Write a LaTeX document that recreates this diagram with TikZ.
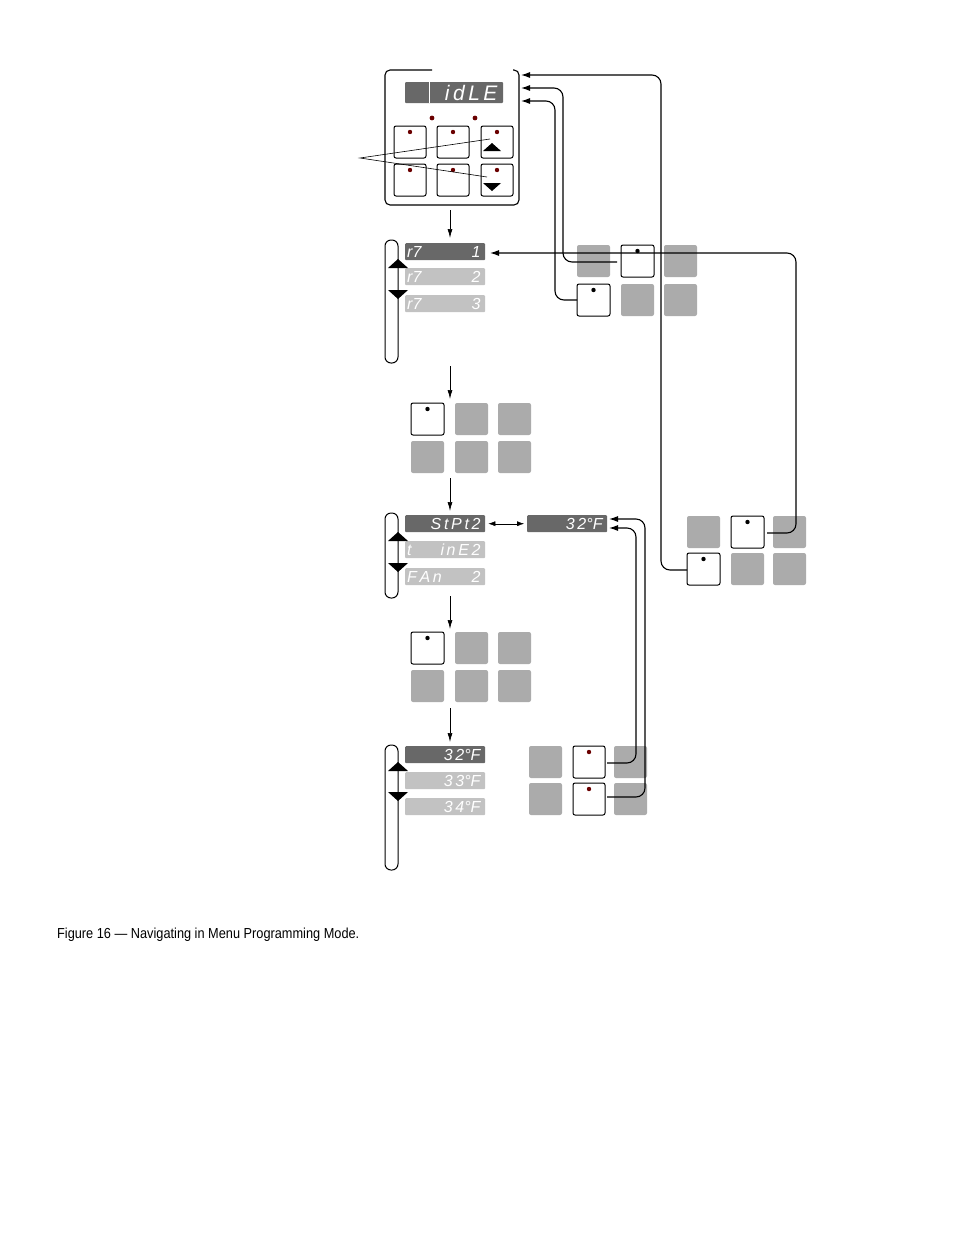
\documentclass[tikz,border=0pt]{standalone}
\usepackage{fontspec}
\setsansfont{Liberation Sans}
\usetikzlibrary{arrows.meta}
\definecolor{dk}{HTML}{686868}
\definecolor{lt}{HTML}{C2C2C2}
\definecolor{gk}{HTML}{ABABAB}
\definecolor{led}{HTML}{6A0000}
\begin{document}
\begin{tikzpicture}[x=1pt,y=-1pt,
 disp/.style={fill=dk,rounded corners=1pt,inner sep=0pt,text=white,font=\sffamily\itshape\fontsize{16}{16}\selectfont,text width=76pt,align=right,minimum width=80pt,minimum height=17pt,anchor=north west},
 ldisp/.style={disp,fill=lt},
 wkey/.style={draw,line width=1pt,rounded corners=2pt},
 gkey/.style={fill=gk,rounded corners=2pt},
 conn/.style={line width=1.1pt,rounded corners=9pt,-{Latex[length=9pt,width=6pt]}},
 arr/.style={line width=0.7pt,-{Latex[length=9pt,width=5pt]}},
 capsule/.style={draw,line width=1pt,rounded corners=6pt}]
\useasboundingbox (0,0) rectangle (954,1235);
\newcommand\wk[3]{\draw[wkey] (#1,#2) rectangle ++(33,32); \fill (#1+16.5,#2+6) circle (2.2pt); \coordinate (#3) at (#1,#2);}
\newcommand\gk[2]{\fill[gkey] (#1,#2) rectangle ++(33,32);}
% controller
\draw[line width=1.1pt,rounded corners=5pt] (432,70) -- (385,70) -- (385,205) -- (519,205) -- (519,70) -- (513,70);
\node[disp,minimum width=98pt,minimum height=21pt,text width=94pt,font=\sffamily\itshape\fontsize{21}{21}\selectfont,anchor=center] (idle) at (454,92.5) {i\,d\,L\,E\,};
\draw[white,line width=0.5pt] (429,82)--(429,103);
\fill[led] (432,118) circle (2.4pt) (475,118) circle (2.4pt);
\foreach \x in {394,437,481}{\foreach \y in {126,164}{\draw[wkey] (\x,\y) rectangle ++(32,32); \fill[led] (\x+16,\y+6) circle (2.2pt);}}
\fill (483,151) -- (492,143) -- (501,151) -- cycle;
\fill (483,183) -- (492,191) -- (501,183) -- cycle;
\coordinate (pt) at (360,158);
\coordinate (ua) at (490,139);
\coordinate (da) at (487,177);
\draw[line width=0.6pt] (ua) -- (pt) -- (da);
\coordinate (c1) at (450,210); \coordinate (c1b) at (450,238);
\draw[arr] (c1) -- (c1b);
% menu 1
\draw[capsule] (385,240) rectangle (398,363);
\node[disp] (m11) at (405,243) {r7\hfill 1\,};
\node[ldisp] (m12) at (405,268) {r7\hfill 2\,};
\node[ldisp] (m13) at (405,295) {r7\hfill 3\,};
\fill (388,268) -- (398,259) -- (408,268) -- cycle;
\fill (388,290) -- (398,299) -- (408,290) -- cycle;
\coordinate (c2) at (450,366); \coordinate (c2b) at (450,399);
\draw[arr] (c2) -- (c2b);
% grid A
\wk{411}{403}{ga} \gk{455}{403} \gk{498}{403}
\gk{411}{441} \gk{455}{441} \gk{498}{441}
\coordinate (c3) at (450,478); \coordinate (c3b) at (450,511);
\draw[arr] (c3) -- (c3b);
% menu 2
\draw[capsule] (385,513) rectangle (398,598);
\node[disp] (m21) at (405,515) {S\,t\,P\,t\,2\,};
\node[ldisp] (m22) at (405,541) {t\hfill i\,n\,E\,2\,};
\node[ldisp] (m23) at (405,568) {F\,A\,n\hfill 2\,};
\fill (388,541) -- (398,532) -- (408,541) -- cycle;
\fill (388,563) -- (398,572) -- (408,563) -- cycle;
\node[disp] (sp) at (527,515) {3\,2\textdegree F\,};
\draw[line width=0.4pt,{Latex[length=7pt,width=5pt]}-{Latex[length=7pt,width=5pt]}] ([xshift=3pt]m21.east) -- ([xshift=-3pt]sp.west);
\coordinate (c4) at (450,596); \coordinate (c4b) at (450,629);
\draw[arr] (c4) -- (c4b);
% grid B
\wk{411}{632}{gb} \gk{455}{632} \gk{498}{632}
\gk{411}{670} \gk{455}{670} \gk{498}{670}
\coordinate (c5) at (450,708); \coordinate (c5b) at (450,742);
\draw[arr] (c5) -- (c5b);
% menu 3
\draw[capsule] (385,745) rectangle (398,870);
\node[disp] (m31) at (405,746) {3\,2\textdegree F\,};
\node[ldisp] (m32) at (405,772) {3\,3\textdegree F\,};
\node[ldisp] (m33) at (405,798) {3\,4\textdegree F\,};
\fill (388,771) -- (398,762) -- (408,771) -- cycle;
\fill (388,792) -- (398,801) -- (408,792) -- cycle;
% grid C
\gk{529}{746} \gk{614}{746} \gk{529}{783} \gk{614}{783}
\draw[wkey] (573,746) rectangle ++(32,32); \fill[led] (589,752) circle (2.2pt);
\draw[wkey] (573,783) rectangle ++(32,32); \fill[led] (589,789) circle (2.2pt);
\coordinate (g1) at (607,763); \coordinate (g2) at (607,797);
\coordinate (t1) at (609,528); \coordinate (t2) at (609,519);
\draw[conn] (g1) -- (636,763) -- (636,528) -- (t1);
\draw[conn] (g2) -- (645,797) -- (645,519) -- (t2);
% top right group
\gk{577}{245} \gk{664}{245} \gk{621}{284} \gk{664}{284}
\wk{621}{245}{w1} \wk{577}{284}{w2}
\coordinate (s1) at (617,262); \coordinate (s2) at (577,300);
\coordinate (i1) at (521,88); \coordinate (i2) at (521,101); \coordinate (i0) at (521,75);
\draw[conn] (s1) -- (563,262) -- (563,88) -- (i1);
\draw[conn] (s2) -- (555,300) -- (555,101) -- (i2);
% right group
\gk{687}{516} \gk{773}{516} \gk{731}{553} \gk{773}{553}
\wk{731}{516}{w3} \wk{687}{553}{w4}
\coordinate (s3) at (767,533); \coordinate (s4) at (687,570); \coordinate (r1) at (490,253);
\draw[conn] (s3) -- (796,533) -- (796,253) -- (r1);
\draw[conn] (s4) -- (661,570) -- (661,75) -- (i0);
% caption
\node[anchor=west,inner sep=0pt,font=\sffamily\fontsize{14.5}{14.5}\selectfont,xscale=0.88,transform shape] (capt) at (57,935) {Figure 16 — Navigating in Menu Programming Mode.};
\end{tikzpicture}
\end{document}
